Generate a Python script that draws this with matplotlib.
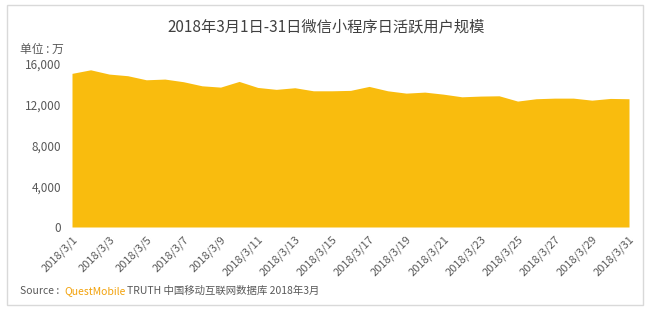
import matplotlib.pyplot as plt
from matplotlib.patches import Rectangle

plt.rcParams['font.family'] = ['Noto Sans CJK SC', 'DejaVu Sans']

days = list(range(1, 32))
dau = [15080, 15430, 15010, 14850, 14450, 14520, 14260, 13860, 13730, 14290,
       13700, 13510, 13670, 13370, 13370, 13410, 13800, 13370, 13140, 13240,
       13040, 12780, 12850, 12880, 12360, 12590, 12650, 12650, 12450, 12620,
       12590]
tick_days = list(range(1, 32, 2))
tick_labels = ['2018/3/%d' % d for d in tick_days]
y_ticks = [0, 4000, 8000, 12000, 16000]
y_labels = ['0', '4,000', '8,000', '12,000', '16,000']

fill_color = '#F9BC0E'
text_color = '#595959'

fig = plt.figure(figsize=(6.52, 3.12), dpi=100)
fig.patches.append(Rectangle((7 / 652, 7 / 312), 636 / 652, 300 / 312,
                             transform=fig.transFigure, fill=False,
                             edgecolor='#d9d9d9', linewidth=1))

ax = fig.add_axes([72 / 652, 85 / 312, 557 / 652, 163 / 312])
ax.fill_between(days, dau, 0, color=fill_color, linewidth=0)
ax.set_xlim(1, 31)
ax.set_ylim(0, 16000)
for s in ax.spines.values():
    s.set_visible(False)
ax.set_yticks(y_ticks)
ax.set_yticklabels(y_labels, fontsize=8.5, color=text_color)
ax.set_xticks(tick_days)
ax.set_xticklabels(tick_labels, fontsize=8, color=text_color,
                   rotation=45, ha='right', rotation_mode='anchor')
ax.tick_params(length=0, pad=8)
ax.tick_params(axis='x', pad=5)

fig.text(0.5, 0.915, '2018年3月1日-31日微信小程序日活跃用户规模',
         ha='center', va='center', fontsize=11, color='#404040')
fig.text(20 / 652, 1 - 49 / 312, '单位 : 万', ha='left', va='center',
         fontsize=8.5, color=text_color)

src_y = 1 - 291 / 312
t1 = fig.text(20 / 652, src_y, 'Source :  ', ha='left', va='center',
              fontsize=7.5, color=text_color)
fig.canvas.draw()
r = fig.canvas.get_renderer()
bb = t1.get_window_extent(r)
t2 = fig.text(bb.x1 / 652, src_y, 'QuestMobile', ha='left', va='center',
              fontsize=7.5, color='#F2A20C')
bb = t2.get_window_extent(r)
fig.text(bb.x1 / 652 + 0.003, src_y, 'TRUTH 中国移动互联网数据库 2018年3月',
         ha='left', va='center', fontsize=7.5, color=text_color)

fig.savefig('out.png', dpi=100)
